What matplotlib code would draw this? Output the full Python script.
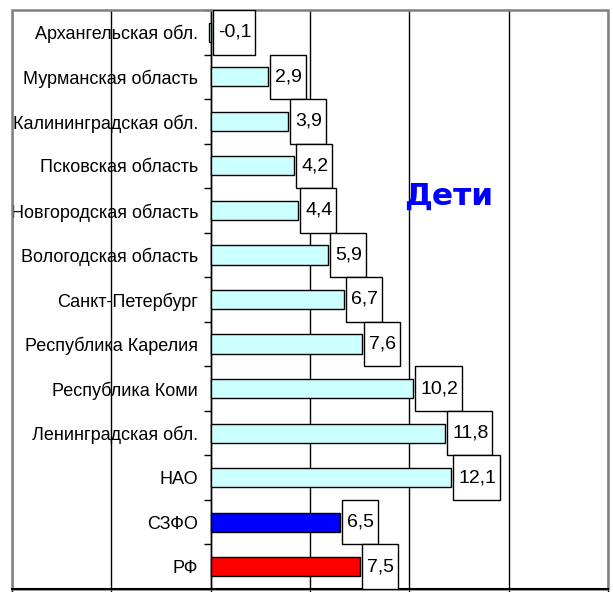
import matplotlib
matplotlib.use("Agg")
import matplotlib.pyplot as plt
from matplotlib.patches import Rectangle

# данные
regions = [
    "Архангельская обл.",
    "Мурманская область",
    "Калининградская обл.",
    "Псковская область",
    "Новгородская область",
    "Вологодская область",
    "Санкт-Петербург",
    "Республика Карелия",
    "Республика Коми",
    "Ленинградская обл.",
    "НАО",
    "СЗФО",
    "РФ",
]
values = [-0.1, 2.9, 3.9, 4.2, 4.4, 5.9, 6.7, 7.6, 10.2, 11.8, 12.1, 6.5, 7.5]
bar_colors = ["#ccffff"] * 11 + ["#0000ff", "#ff0000"]

W, H = 613, 592
fig = plt.figure(figsize=(W / 100, H / 100), dpi=100)
ax = fig.add_axes([12 / W, 1 - 589 / H, 596 / W, 579 / H])

label_font = "Liberation Sans"

idx = list(range(len(regions)))
ax.barh(idx, values, height=0.43, color=bar_colors, edgecolor="black",
        linewidth=1, zorder=3)

ax.set_xlim(-10, 20)
ax.set_ylim(len(regions) - 0.5, -0.5)

# вертикальная сетка
ax.set_xticks([-10, -5, 0, 5, 10, 15, 20])
ax.set_xticklabels([])
ax.grid(axis="x", color="black", linewidth=1, zorder=1)
ax.tick_params(axis="x", direction="out", length=4, width=1, color="black")

# ось Y по нулю, засечки между категориями
ax.spines["left"].set_position(("data", 0))
ax.spines["left"].set_linewidth(1)
ax.set_yticks([i - 0.5 for i in range(len(regions) + 1)])
ax.set_yticklabels([])
ax.set_yticks(idx, minor=True)
ax.set_yticklabels(regions, minor=True, fontfamily=label_font, fontsize=13)
ax.tick_params(axis="y", which="major", direction="out", length=5, width=1)
ax.tick_params(axis="y", which="minor", length=0, pad=9)

for s in ["top", "right"]:
    ax.spines[s].set_visible(False)
ax.spines["bottom"].set_color("black")
ax.spines["bottom"].set_linewidth(1.5)
ax.spines["bottom"].set_zorder(6)

ax.add_patch(Rectangle((0, 0), 1, 1, transform=ax.transAxes, fill=False,
                       edgecolor="#808080", linewidth=1.8, clip_on=False,
                       zorder=5))

# подписи значений в рамках
px = 30 / 596
texts = []
for i, v in enumerate(values):
    t = ax.text(max(v, 0) + 2 * px + 5 * px, i, f"{v:.1f}".replace(".", ","),
                ha="left", va="center", fontfamily=label_font, fontsize=14,
                zorder=8)
    texts.append(t)

fig.canvas.draw()
inv = ax.transData.inverted()
for i, (v, t) in enumerate(zip(values, texts)):
    bb = t.get_window_extent()
    (xa, _), (xb, _) = inv.transform([[bb.x0, 0], [bb.x1, 0]])
    left = max(v, 0) + 2 * px
    ax.add_patch(Rectangle((left, i - 0.5), (xb - xa) + 9 * px, 1,
                           facecolor="white", edgecolor="black",
                           linewidth=1, zorder=7))

ax.text(0.733, 0.679, "Дети", transform=ax.transAxes, ha="center",
        va="center", fontsize=22.5, fontweight="bold", color="#0000ff",
        fontfamily="DejaVu Sans", zorder=9)

fig.savefig("out.png", dpi=100)
